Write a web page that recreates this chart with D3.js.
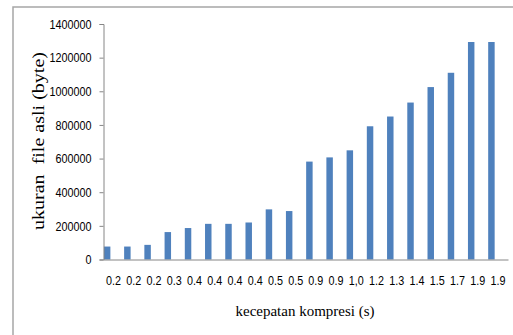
<!DOCTYPE html>
<html><head><meta charset="utf-8">
<script src="https://cdn.jsdelivr.net/npm/d3@7"></script>
<style>body{margin:0;background:#fff}svg{display:block}</style>
</head><body>
<script>
const categories = ["0.2","0.2","0.2","0.3","0.4","0.4","0.4","0.4","0.5","0.5","0.9","0.9","1,0","1.2","1.3","1.4","1.5","1.7","1.9","1.9"];
const values = [77000,77000,87000,163000,187000,212000,212000,220000,298000,288000,582000,607000,649000,792000,850000,933000,1025000,1110000,1293000,1293000];
const yTicks = [0,200000,400000,600000,800000,1000000,1200000,1400000];
const yTitle = "ukuran  file asli (byte)";
const xTitle = "kecepatan kompresi (s)";

const W = 513, H = 335;
const svg = d3.select("body").append("svg").attr("width", W).attr("height", H);

// outer frame
svg.append("rect").attr("x", 13).attr("y", 7).attr("width", W + 20).attr("height", H + 20)
  .attr("fill", "none").attr("stroke", "#a6a6a6").attr("stroke-width", 1.5);

const x0 = 103.5, x1 = 508, yBottom = 259.5, yTop = 24;
const x = d3.scaleBand().domain(d3.range(categories.length)).range([x0, x1]).padding(0);
const y = d3.scaleLinear().domain([0, 1400000]).range([yBottom, yTop]);

// bars
const bw = x.bandwidth();
svg.append("g").selectAll("rect").data(values).enter().append("rect")
  .attr("x", (d, i) => x(i) + bw * 0.02)
  .attr("width", bw * 0.32)
  .attr("y", d => y(d))
  .attr("height", d => y(0) - y(d))
  .attr("fill", "#4f81bd");

// y axis
const yAxis = d3.axisLeft(y).tickValues(yTicks).tickSize(4).tickPadding(8).tickFormat(d3.format("d"));
const gy = svg.append("g").attr("transform", `translate(${x0},0)`).call(yAxis);
gy.select(".domain").attr("stroke", "#868686");
gy.selectAll(".tick line").attr("stroke", "#868686");
gy.selectAll(".tick text").attr("font-family", "Liberation Sans, Arial, sans-serif")
  .attr("font-size", 13).attr("fill", "#000")
  .each(function(d){ const s = String(d); d3.select(this).attr("textLength", s.length * 6).attr("lengthAdjust", "spacingAndGlyphs"); });

// x axis
const xAxis = d3.axisBottom(x).tickFormat(i => categories[i]).tickSize(0).tickPadding(16);
const gx = svg.append("g").attr("transform", `translate(0,${yBottom})`).call(xAxis);
gx.select(".domain").attr("stroke", "#868686");
gx.selectAll(".tick text").attr("font-family", "Liberation Sans, Arial, sans-serif")
  .attr("font-size", 13).attr("fill", "#000")
  .attr("textLength", 15).attr("lengthAdjust", "spacingAndGlyphs");

// titles
svg.append("text").attr("transform", "translate(44,141) rotate(-90)")
  .attr("text-anchor", "middle").attr("font-family", "Liberation Serif, Times New Roman, serif")
  .attr("font-size", 16.5).attr("fill", "#000")
  .attr("textLength", 178).attr("lengthAdjust", "spacingAndGlyphs")
  .style("white-space", "pre").text(yTitle);

svg.append("text").attr("x", 305).attr("y", 316)
  .attr("text-anchor", "middle").attr("font-family", "Liberation Serif, Times New Roman, serif")
  .attr("font-size", 15.5).attr("fill", "#000")
  .attr("textLength", 139).attr("lengthAdjust", "spacingAndGlyphs")
  .text(xTitle);
</script>
</body></html>
